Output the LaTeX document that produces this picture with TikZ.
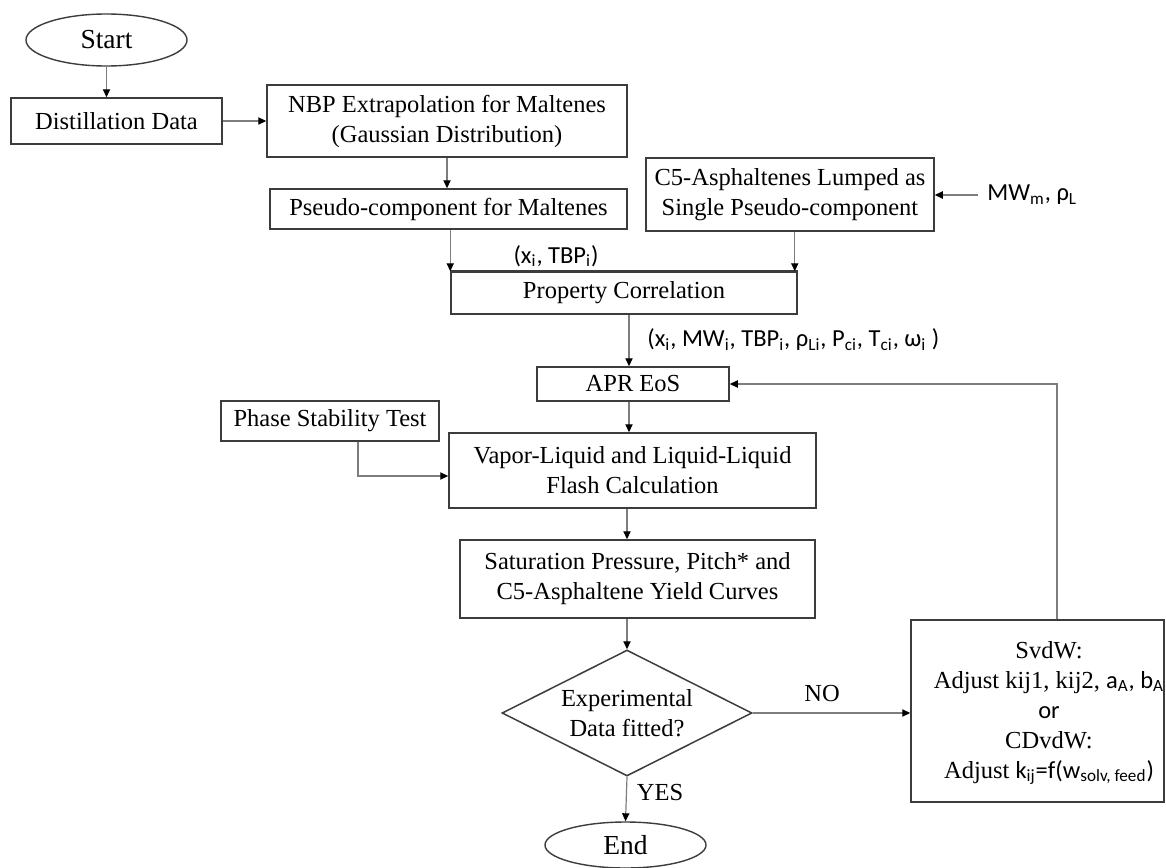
\documentclass[tikz,border=0pt]{standalone}
\usepackage{fontspec}
\setmainfont{Liberation Serif}
\newfontfamily\calib{Carlito}
\usetikzlibrary{shapes.geometric,arrows.meta}
\newcommand\myfs{\fontsize{12.25}{15}\selectfont}
\newcommand\myfsbig{\fontsize{13.75}{16}\selectfont}
\definecolor{boxc}{RGB}{60,60,60}
\definecolor{connc}{RGB}{125,125,125}
\begin{document}
\begin{tikzpicture}[x=0.5pt,y=-0.5pt,
  box/.style={draw=boxc, line width=0.75pt, inner sep=0pt, align=center, font=\myfs},
  term/.style={draw=boxc, line width=0.7pt, ellipse, inner sep=0pt, font=\myfsbig},
  lab/.style={font=\calib\myfs, inner sep=0pt},
  txt/.style={font=\myfs, inner sep=0pt},
  conn/.style={draw=connc, line width=0.6pt, -{Triangle[length=4pt,width=3.6pt,color=black]}}]
\useasboundingbox (0,0) rectangle (1166,867);

\node[term, minimum width=80.5pt, minimum height=26pt] (start) at (106.5,40) {Start};
\node[box, minimum width=105.5pt, minimum height=23pt] (dist) at (116.5,121) {Distillation Data};
\node[box, minimum width=180pt, minimum height=36pt] (nbp) at (447,121) {NBP Extrapolation for Maltenes\\(Gaussian Distribution)};
\node[box, minimum width=178.5pt, minimum height=20pt] (pseudo) at (448.5,209) {Pseudo-component for Maltenes};
\node[box, minimum width=144pt, minimum height=36.5pt] (c5) at (790,194.5) {C5-Asphaltenes Lumped as\\Single Pseudo-component};
\node[box, minimum width=173pt, minimum height=21pt] (prop) at (624,293) {Property Correlation};
\node[box, minimum width=96pt, minimum height=17pt] (apr) at (633,384) {APR EoS};
\node[box, minimum width=109pt, minimum height=20pt] (phase) at (330,421) {Phase Stability Test};
\node[box, minimum width=183.5pt, minimum height=37.5pt] (vapor) at (632.5,470.5) {Vapor-Liquid and Liquid-Liquid\\Flash Calculation};
\node[box, minimum width=177.5pt, minimum height=39pt] (sat) at (637.5,579) {Saturation Pressure, Pitch* and\\C5-Asphaltene Yield Curves};
\node[box, diamond, aspect=2, minimum width=125pt, minimum height=63pt] (dia) at (627,713) {Experimental\\Data fitted?};
\node[box, minimum width=126.5pt, minimum height=91pt] (svdw) at (1037.5,711) {};
\node[txt, align=center] (svdwtext) at (1049,713) {SvdW:\\Adjust kij1, kij2, {\calib a\textsubscript{A}, b\textsubscript{A}}\\{\calib or}\\CDvdW:\\Adjust {\calib k\textsubscript{ij}=f(w\textsubscript{solv, feed})}};
\node[term, minimum width=80.5pt, minimum height=23pt] (end) at (625.5,845) {End};

\node[lab, anchor=west] (mw) at (987,195) {MW\textsubscript{m}, ρ\textsubscript{L}};
\node[lab] (xt) at (556,256) {(x\textsubscript{i}, TBP\textsubscript{i})};
\node[lab, anchor=west] (props) at (647,340) {(x\textsubscript{i}, MW\textsubscript{i}, TBP\textsubscript{i}, ρ\textsubscript{Li}, P\textsubscript{ci}, T\textsubscript{ci}, ω\textsubscript{i} )};
\node[txt] (yes) at (660,792) {YES};
\node[txt] (no) at (822,693) {NO};

\draw[boxc, line width=1.3pt] (prop.north west) -- (prop.north east);

\draw[conn] (start.south) -- (start.south |- dist.north);
\draw[conn] (dist.east) -- (nbp.west);
\draw[conn] (nbp.south) -- (nbp.south |- pseudo.north);
\draw[conn] (pseudo.south -| prop.west) -- (prop.north west);
\coordinate (c5in) at ([xshift=-1.5pt]prop.north east);
\draw[conn] (c5.south -| c5in) -- (c5in);
\draw[conn] ([xshift=-4.5pt]mw.west) -- (c5.east |- mw.west);
\draw[conn] ([xshift=2.5pt]prop.south) -- ([xshift=2.5pt]prop.south |- apr.north);
\draw[conn] ([xshift=-2pt]apr.south) -- ([xshift=-2pt]apr.south |- vapor.north);
\draw[conn] ([xshift=14pt]phase.south) |- ([yshift=-2.75pt]vapor.west);
\draw[conn] ([xshift=-2.75pt]vapor.south) -- ([xshift=-2.75pt]vapor.south |- sat.north);
\draw[conn] (dia.north |- sat.south) -- (dia.north);
\draw[conn] (dia.south) -- (end.north);
\draw[conn] (dia.east) -- (dia.east -| svdw.west);
\draw[conn] ([xshift=9.75pt]svdw.north) |- (apr.east);
\end{tikzpicture}
\end{document}
